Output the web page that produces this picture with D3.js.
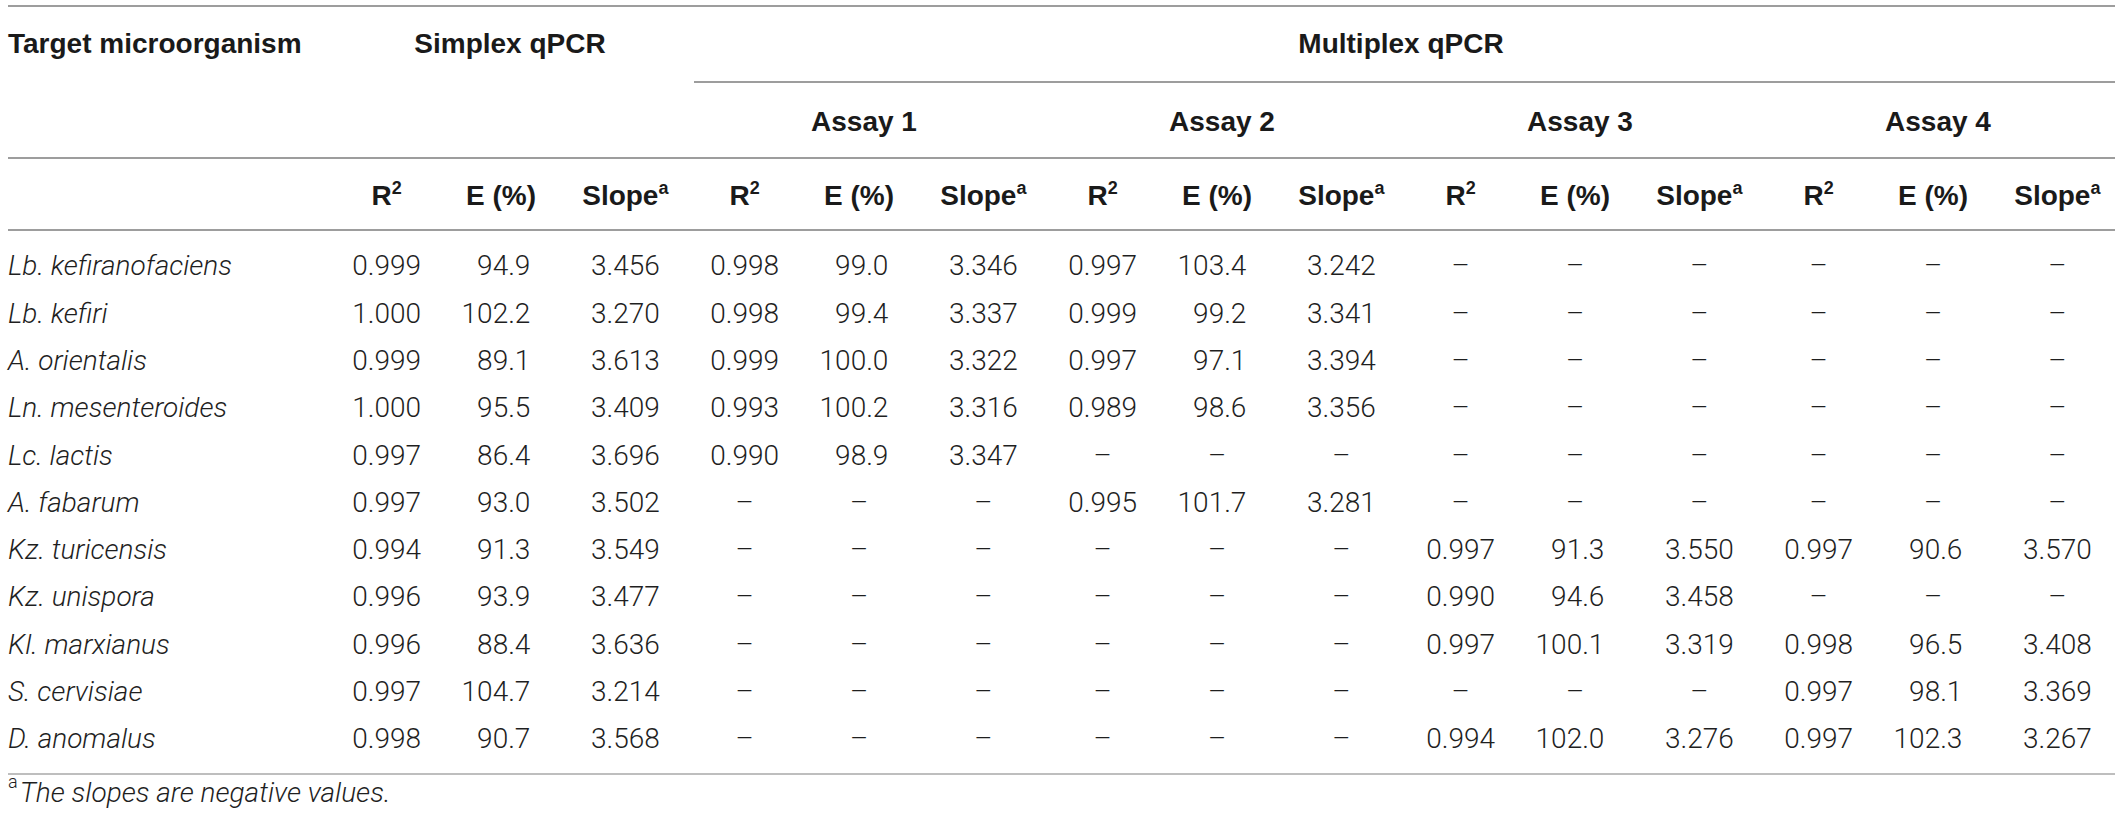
<!DOCTYPE html>
<html>
<head>
<meta charset="utf-8">
<script src="https://cdn.jsdelivr.net/npm/d3@7"></script>
<style>
  body { margin: 0; background: #fff; }
  svg { display: block; font-family: "Liberation Sans", Arial, Helvetica, sans-serif; }
  .hd { font-weight: bold; fill: #1a1a1a; }
  .cell, .name, .foot { font-family: Roboto, "Liberation Sans", Arial, sans-serif; font-weight: 300; fill: #1f1f1f; }
  .name { font-style: italic; }
</style>
</head>
<body>
<svg width="2120" height="824"></svg>
<script>
// table data
let organisms = ["Lb. kefiranofaciens", "Lb. kefiri", "A. orientalis", "Ln. mesenteroides",
    "Lc. lactis", "A. fabarum", "Kz. turicensis", "Kz. unispora", "Kl. marxianus",
    "S. cervisiae", "D. anomalus"];

let groups = ["Simplex qPCR", "Assay 1", "Assay 2", "Assay 3", "Assay 4"];
let measures = ["R2", "E", "Slope"];

let simplexR2 = [0.999, 1.000, 0.999, 1.000, 0.997, 0.997, 0.994, 0.996, 0.996, 0.997, 0.998];
let simplexE = [94.9, 102.2, 89.1, 95.5, 86.4, 93.0, 91.3, 93.9, 88.4, 104.7, 90.7];
let simplexSlope = [3.456, 3.270, 3.613, 3.409, 3.696, 3.502, 3.549, 3.477, 3.636, 3.214, 3.568];

let assay1R2 = [0.998, 0.998, 0.999, 0.993, 0.990, null, null, null, null, null, null];
let assay1E = [99.0, 99.4, 100.0, 100.2, 98.9, null, null, null, null, null, null];
let assay1Slope = [3.346, 3.337, 3.322, 3.316, 3.347, null, null, null, null, null, null];

let assay2R2 = [0.997, 0.999, 0.997, 0.989, null, 0.995, null, null, null, null, null];
let assay2E = [103.4, 99.2, 97.1, 98.6, null, 101.7, null, null, null, null, null];
let assay2Slope = [3.242, 3.341, 3.394, 3.356, null, 3.281, null, null, null, null, null];

let assay3R2 = [null, null, null, null, null, null, 0.997, 0.990, 0.997, null, 0.994];
let assay3E = [null, null, null, null, null, null, 91.3, 94.6, 100.1, null, 102.0];
let assay3Slope = [null, null, null, null, null, null, 3.550, 3.458, 3.319, null, 3.276];

let assay4R2 = [null, null, null, null, null, null, 0.997, null, 0.998, 0.997, 0.997];
let assay4E = [null, null, null, null, null, null, 90.6, null, 96.5, 98.1, 102.3];
let assay4Slope = [null, null, null, null, null, null, 3.570, null, 3.408, 3.369, 3.267];

let footnote = "The slopes are negative values.";

let columns = [
    [simplexR2, simplexE, simplexSlope],
    [assay1R2, assay1E, assay1Slope],
    [assay2R2, assay2E, assay2Slope],
    [assay3R2, assay3E, assay3Slope],
    [assay4R2, assay4E, assay4Slope]
];

let svg = d3.select("svg"),
    fontSize = 28,
    left = 8,
    right = 2115;

let xGroup = d3.scaleBand().domain(groups).range([327, 2117]);
let xCol = d3.scaleBand().domain(measures).range([0, xGroup.bandwidth()]);
let y = d3.scaleBand().domain(organisms).range([242, 762]);

function colX(g, m) {
    let shift = m === "E" ? -5 : 0;
    return xGroup(g) + xCol(m) + xCol.bandwidth() / 2 + shift;
}

let fmt = {R2: d3.format(".3f"), E: d3.format(".1f"), Slope: d3.format(".3f")};

// rules
function rule(x1, x2, yy, color) {
    svg.append("line")
        .attr("x1", x1).attr("x2", x2)
        .attr("y1", yy).attr("y2", yy)
        .attr("stroke", color)
        .attr("stroke-width", 1.6);
}
rule(left, right, 6, "#7d7d7d");
rule(xGroup("Assay 1") + 9, right, 82, "#7d7d7d");
rule(left, right, 158, "#7d7d7d");
rule(left, right, 230, "#7d7d7d");
rule(left, right, 774, "#a8a8a8");

// header row 1
svg.append("text").attr("class", "hd")
    .attr("x", left).attr("y", 43).attr("dy", "0.35em")
    .attr("font-size", fontSize)
    .text("Target microorganism");

svg.append("text").attr("class", "hd")
    .attr("x", xGroup("Simplex qPCR") + xGroup.bandwidth() / 2 + 4)
    .attr("y", 43).attr("dy", "0.35em")
    .attr("text-anchor", "middle")
    .attr("font-size", fontSize)
    .text("Simplex qPCR");

svg.append("text").attr("class", "hd")
    .attr("x", (xGroup("Assay 1") + xGroup("Assay 4") + xGroup.bandwidth()) / 2)
    .attr("y", 43).attr("dy", "0.35em")
    .attr("text-anchor", "middle")
    .attr("font-size", fontSize)
    .text("Multiplex qPCR");

// assay row
svg.selectAll(".assay")
    .data(groups.slice(1))
    .enter()
    .append("text")
    .attr("class", "hd assay")
    .attr("x", function (d) { return xGroup(d) + xGroup.bandwidth() / 2; })
    .attr("y", 121).attr("dy", "0.35em")
    .attr("text-anchor", "middle")
    .attr("font-size", fontSize)
    .text(function (d) { return d; });

// measure headers
groups.forEach(function (g) {
    measures.forEach(function (m) {
        let t = svg.append("text").attr("class", "hd")
            .attr("x", colX(g, m))
            .attr("y", 195).attr("dy", "0.35em")
            .attr("text-anchor", "middle")
            .attr("font-size", fontSize);
        if (m === "R2") {
            t.append("tspan").text("R");
            t.append("tspan").attr("font-size", 18).attr("dy", "-0.6em").text("2");
        } else if (m === "E") {
            t.text("E (%)");
        } else {
            t.append("tspan").text("Slope");
            t.append("tspan").attr("font-size", 18).attr("dy", "-0.6em").text("a");
        }
    });
});

// organism names
svg.selectAll(".name")
    .data(organisms)
    .enter()
    .append("text")
    .attr("class", "name")
    .attr("x", left)
    .attr("y", function (d) { return y(d) + y.bandwidth() / 2; })
    .attr("dy", "0.35em")
    .attr("font-size", fontSize)
    .text(function (d) { return d; });

// measure a reference width so E values line up on the decimal point
let probe = svg.append("text").attr("class", "cell").attr("font-size", fontSize).text("100.0");
let eHalf = probe.node().getComputedTextLength() / 2 - 5;
probe.remove();

// cells
groups.forEach(function (g, gi) {
    measures.forEach(function (m, mi) {
        let cx = colX(g, m);
        svg.selectAll(null)
            .data(columns[gi][mi])
            .enter()
            .append("text")
            .attr("class", "cell")
            .attr("font-size", fontSize)
            .attr("x", function (d) { return (d !== null && m === "E") ? cx + eHalf : cx; })
            .attr("y", function (d, i) { return y(organisms[i]) + y.bandwidth() / 2; })
            .attr("dy", "0.35em")
            .attr("text-anchor", function (d) { return (d !== null && m === "E") ? "end" : "middle"; })
            .text(function (d) { return d === null ? "\u2013" : fmt[m](d); });
    });
});

// footnote
let fn = svg.append("text")
    .attr("class", "foot")
    .attr("x", left).attr("y", 797).attr("dy", "0.35em")
    .attr("font-size", fontSize);
fn.append("tspan").attr("font-size", 18).attr("dy", "-0.5em").text("a");
fn.append("tspan").attr("font-style", "italic").attr("dx", 2).attr("dy", "0.5em").text(footnote);
</script>
</body>
</html>
